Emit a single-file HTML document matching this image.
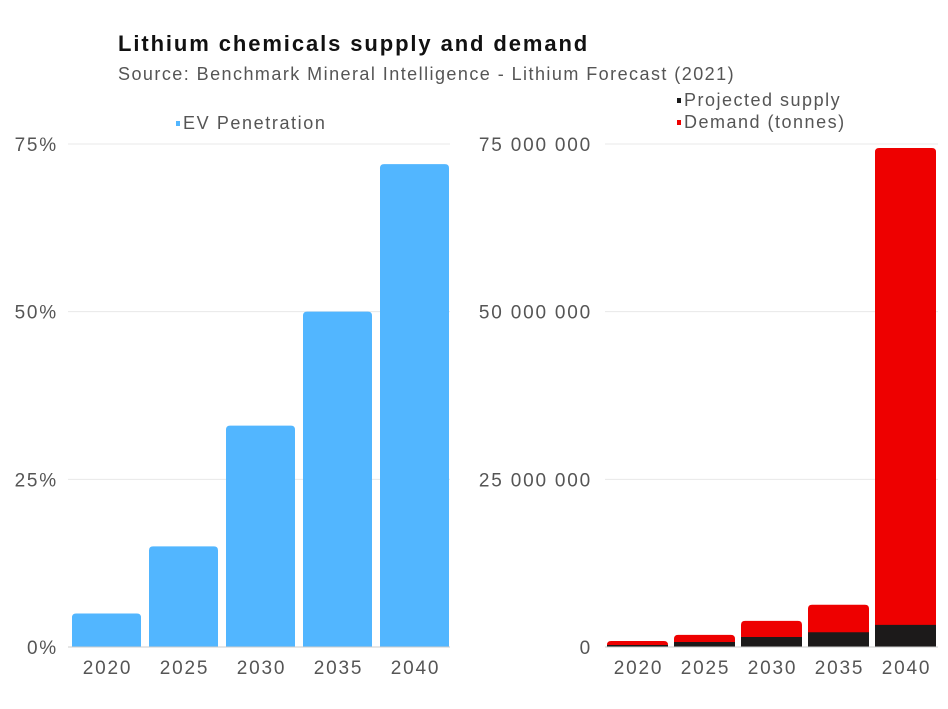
<!DOCTYPE html>
<html><head><meta charset="utf-8"><style>
body{margin:0;background:#fff;width:948px;height:704px;overflow:hidden;font-family:"Liberation Sans",sans-serif}
svg text{font-family:"Liberation Sans",sans-serif}
</style></head><body>
<svg id="c" width="948" height="704">
<text x="118" y="51" font-size="22" font-weight="bold" fill="#111" letter-spacing="1.9">Lithium chemicals supply and demand</text>
<text x="118" y="80" font-size="18" fill="#555" letter-spacing="1.45">Source: Benchmark Mineral Intelligence - Lithium Forecast (2021)</text>
<g><rect x="176" y="121" width="4" height="5" fill="#52b6ff"/><text x="183" y="129" font-size="18" fill="#555" letter-spacing="1.6">EV Penetration</text></g>
<g><rect x="677" y="98" width="4" height="5" fill="#1a1a1a"/><text x="684" y="106" font-size="18" fill="#555" letter-spacing="1.5">Projected supply</text></g>
<g><rect x="677" y="120" width="4" height="5" fill="#ee0000"/><text x="684" y="128" font-size="18" fill="#555" letter-spacing="1.5">Demand (tonnes)</text></g>
</svg>
<script>
const years=["2020","2025","2030","2035","2040"];
const evPct=[5,15,33,50,72];
const demand=[0.9,1.8,3.9,6.3,74.4];
const supply=[0.3,0.75,1.5,2.2,3.3];
const leftTicks=[0,25,50,75];
const leftTickLabels=["0%","25%","50%","75%"];
const rightTicks=[0,25,50,75];
const rightTickLabels=["0","25 000 000","50 000 000","75 000 000"];
const svg=document.getElementById('c');const NS="http://www.w3.org/2000/svg";
function mk(t,a){const e=document.createElementNS(NS,t);for(const k in a)e.setAttribute(k,a[k]);svg.appendChild(e);return e;}
const y0=647,yTop=144;
function y(v){return y0-(v/75)*(y0-yTop);}
function bar(x,w,top,bot,fill,round){const h=bot-top;const r=Math.min(round,h);
 const d=round?`M${x},${bot}V${top+r}Q${x},${top} ${x+r},${top}H${x+w-r}Q${x+w},${top} ${x+w},${top+r}V${bot}Z`:`M${x},${bot}V${top}H${x+w}V${bot}Z`;
 return mk('path',{d,fill});}
const TS={'font-size':19,fill:'#555','letter-spacing':1.8};
function txt(x,yy,s,anchor){const a=Object.assign({x:x,y:yy,'text-anchor':anchor},TS);const t=mk('text',a);t.textContent=s;return t;}
leftTicks.forEach((t,i)=>{const g=mk('line',{x1:68,x2:450,y1:y(t),y2:y(t),stroke:'#e8e8e8'});


const tx=txt(58,y(t)+7,leftTickLabels[i],'end');

});
years.forEach((yr,i)=>{const x=72+i*77;
const b=bar(x,69,y(evPct[i]),y0,'#52b6ff',4);


const t=txt(x+35.5,674,yr,'middle');

});
rightTicks.forEach((t,i)=>{const g=mk('line',{x1:605,x2:938,y1:y(t),y2:y(t),stroke:'#e8e8e8'});


const tx=txt(592,y(t)+7,rightTickLabels[i],'end');

});
years.forEach((yr,i)=>{const x=607+i*67;
const d=bar(x,61,y(demand[i]),y0,'#ee0000',4);


const s=bar(x,61,y(supply[i]),y0,'#1c1a1a',0);


const t=txt(x+31.5,674,yr,'middle');

});
const b1=mk('line',{x1:68,x2:450,y1:y0,y2:y0,stroke:'#ccc'});


const b2=mk('line',{x1:605,x2:938,y1:y0,y2:y0,stroke:'#ccc'});


</script>
</body></html>
